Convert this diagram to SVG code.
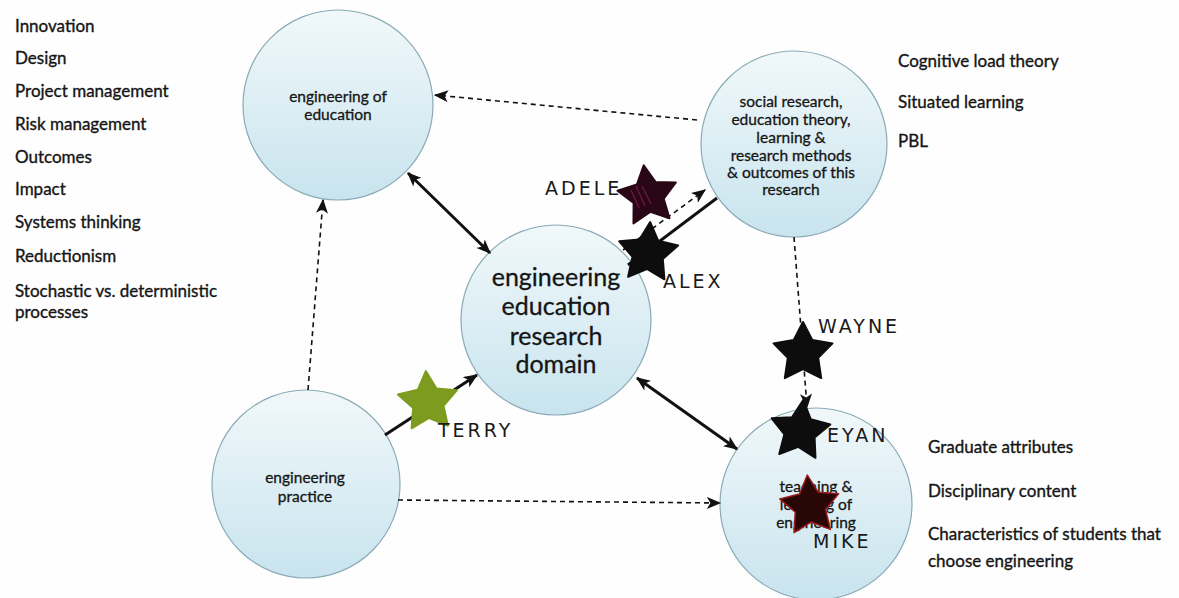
<svg xmlns="http://www.w3.org/2000/svg" width="1179" height="598" viewBox="0 0 1179 598">
  <style>
    .node { stroke: #8aaab6; stroke-width: 1.2; fill: url(#bubble); }
    .lbl { font-family: Lato, "Open Sans", "Liberation Sans", sans-serif; fill: #151515; stroke: #151515; stroke-width: 0.3; text-anchor: middle; }
    .list { font-family: Lato, "Open Sans", "Liberation Sans", sans-serif; font-size: 17px; fill: #151515; stroke: #151515; stroke-width: 0.35; }
    .solid { stroke: #111; stroke-width: 3; fill: none; }
    .dash { stroke: #111; stroke-width: 1.6; stroke-dasharray: 5 4; fill: none; }
    .hand { font-family: "DejaVu Sans", sans-serif; font-size: 19px; letter-spacing: 3px; fill: #1a1a1a; }
  </style>
  <defs>
    <linearGradient id="bubble" x1="0" y1="0" x2="0" y2="1">
      <stop offset="0" stop-color="#f1f8fa"/>
      <stop offset="1" stop-color="#c8e4ee"/>
    </linearGradient>
    <marker id="head" viewBox="0 0 12 10" refX="11" refY="5" markerWidth="15" markerHeight="12" markerUnits="userSpaceOnUse" orient="auto-start-reverse">
      <path d="M0,0 L12,5 L0,10 L3,5 z" fill="#111"/>
    </marker>
    <!-- five-point sticker star, centred on its own origin -->
    <path id="star" d="M0,-31 L9.4,-12.9 L29.5,-9.6 L15.2,4.9 L18.2,25.1 L0,16 L-18.2,25.1 L-15.2,4.9 L-29.5,-9.6 L-9.4,-12.9 Z" stroke-linejoin="round"/>
  </defs>

  <rect width="1179" height="598" fill="#fefefe"/>

  <!-- side lists -->
  <g id="list-left" class="list">
    <text x="15" y="32">Innovation</text>
    <text x="15" y="64">Design</text>
    <text x="15" y="97">Project management</text>
    <text x="15" y="130">Risk management</text>
    <text x="15" y="163">Outcomes</text>
    <text x="15" y="195">Impact</text>
    <text x="15" y="228">Systems thinking</text>
    <text x="15" y="262">Reductionism</text>
    <text x="15" y="297">Stochastic vs. deterministic</text>
    <text x="15" y="318">processes</text>
  </g>
  <g id="list-theory" class="list">
    <text x="898" y="67">Cognitive load theory</text>
    <text x="898" y="108">Situated learning</text>
    <text x="898" y="147">PBL</text>
  </g>
  <g id="list-teaching" class="list">
    <text x="928" y="453">Graduate attributes</text>
    <text x="928" y="497">Disciplinary content</text>
    <text x="928" y="540">Characteristics of students that</text>
    <text x="928" y="567">choose engineering</text>
  </g>

  <!-- nodes -->
  <g id="eng-of-education">
    <circle class="node" cx="338" cy="105" r="95"/>
    <text class="lbl" font-size="15.5" x="338" y="102">engineering of</text>
    <text class="lbl" font-size="15.5" x="338" y="120">education</text>
  </g>
  <g id="research-domain">
    <circle class="node" cx="556" cy="320" r="95"/>
    <text class="lbl" font-size="25" x="556" y="286">engineering</text>
    <text class="lbl" font-size="25" x="556" y="315">education</text>
    <text class="lbl" font-size="25" x="556" y="345">research</text>
    <text class="lbl" font-size="25" x="556" y="373">domain</text>
  </g>
  <g id="social-research">
    <circle class="node" cx="794" cy="144" r="93"/>
    <text class="lbl" font-size="15.5" x="791" y="107">social research,</text>
    <text class="lbl" font-size="15.5" x="791" y="125">education theory,</text>
    <text class="lbl" font-size="15.5" x="791" y="143">learning &amp;</text>
    <text class="lbl" font-size="15.5" x="791" y="161">research methods</text>
    <text class="lbl" font-size="15.5" x="791" y="178">&amp; outcomes of this</text>
    <text class="lbl" font-size="15.5" x="791" y="195">research</text>
  </g>
  <g id="eng-practice">
    <circle class="node" cx="306" cy="484" r="94"/>
    <text class="lbl" font-size="15.5" x="305" y="483">engineering</text>
    <text class="lbl" font-size="15.5" x="305" y="502">practice</text>
  </g>
  <g id="teaching-learning">
    <circle class="node" cx="816" cy="504" r="96"/>
    <text class="lbl" font-size="15.5" x="816" y="492">teaching &amp;</text>
    <text class="lbl" font-size="15.5" x="816" y="510">learning of</text>
    <text class="lbl" font-size="15.5" x="816" y="528">engineering</text>
  </g>

  <!-- connectors -->
  <g id="connectors">
    <line class="dash" x1="697" y1="120" x2="435" y2="95" marker-end="url(#head)"/>
    <line class="solid" x1="408" y1="173" x2="490" y2="253" marker-start="url(#head)" marker-end="url(#head)"/>
    <line class="solid" x1="628" y1="265" x2="717" y2="198"/>
    <line class="dash" x1="623" y1="250" x2="705" y2="190" marker-end="url(#head)"/>
    <line class="dash" x1="794" y1="237" x2="807" y2="407" marker-end="url(#head)"/>
    <line class="solid" x1="637" y1="378" x2="737" y2="449" marker-start="url(#head)" marker-end="url(#head)"/>
    <line class="dash" x1="308" y1="390" x2="323" y2="200" marker-end="url(#head)"/>
    <line class="solid" x1="385" y1="435" x2="477" y2="375" marker-end="url(#head)"/>
    <line class="dash" x1="398" y1="500" x2="720" y2="503" marker-end="url(#head)"/>
  </g>

  <!-- people stars with their names -->
  <g id="adele">
    <use href="#star" transform="translate(648,196) rotate(-8)" fill="#2a0716" stroke="#2a0716" stroke-width="2"/>
    <g stroke="#8a1a55" stroke-width="1.2" opacity="0.8">
      <line x1="631" y1="190" x2="639" y2="208"/>
      <line x1="636" y1="186" x2="645" y2="206"/>
      <line x1="642" y1="186" x2="651" y2="204"/>
    </g>
    <text class="hand" x="545" y="195">ADELE</text>
  </g>
  <g id="alex">
    <use href="#star" transform="translate(648,253) rotate(4)" fill="#0d0d0d" stroke="#0d0d0d" stroke-width="2"/>
    <text class="hand" x="663" y="288">ALEX</text>
  </g>
  <g id="terry">
    <use href="#star" transform="translate(428,402) rotate(-4)" fill="#7d9b1e" stroke="#7d9b1e" stroke-width="2"/>
    <text class="hand" x="438" y="437">TERRY</text>
  </g>
  <g id="wayne">
    <use href="#star" transform="translate(803,353)" fill="#0d0d0d" stroke="#0d0d0d" stroke-width="2"/>
    <text class="hand" x="818" y="333">WAYNE</text>
  </g>
  <g id="eyan">
    <use href="#star" transform="translate(800,431) rotate(6)" fill="#0d0d0d" stroke="#0d0d0d" stroke-width="2"/>
    <text class="hand" x="827" y="442">EYAN</text>
  </g>
  <g id="mike">
    <use href="#star" transform="translate(810,506) rotate(-5)" fill="#2a0707" stroke="#9a1a1a" stroke-width="1.5"/>
    <text class="hand" x="813" y="548">MIKE</text>
  </g>
</svg>
